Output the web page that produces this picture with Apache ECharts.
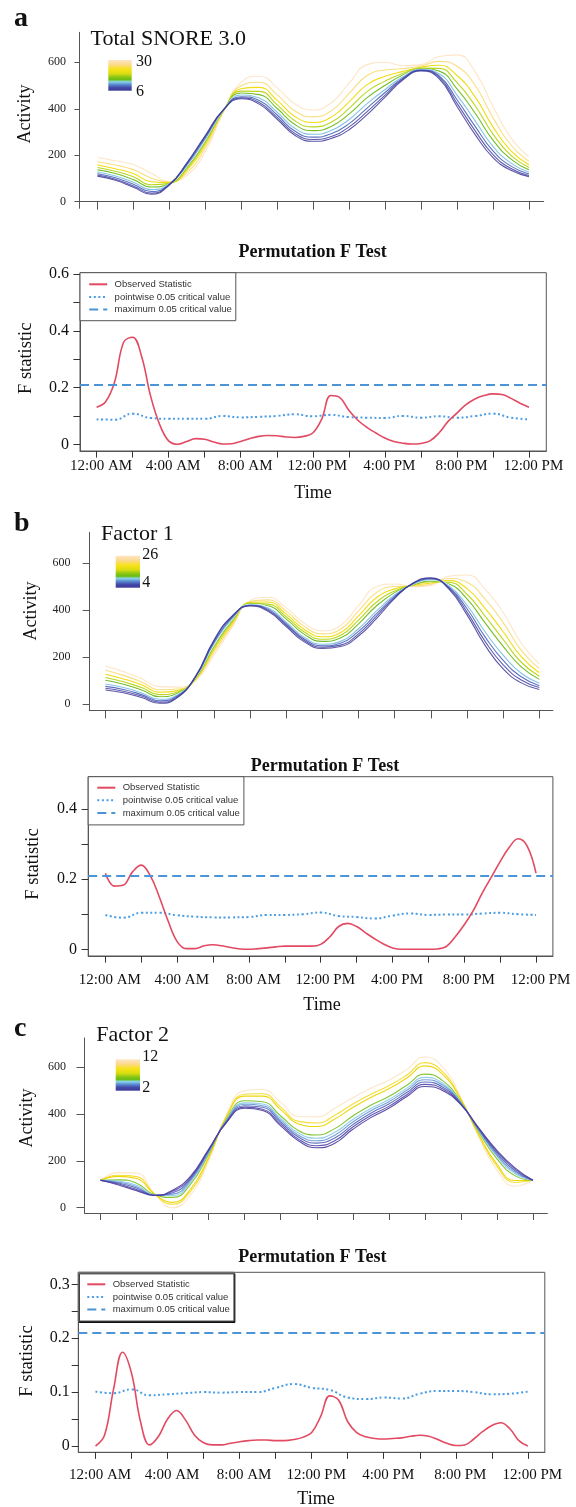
<!DOCTYPE html>
<html><head><meta charset="utf-8">
<script src="https://cdn.jsdelivr.net/npm/echarts@6/dist/echarts.min.js"></script>
<style>html,body{margin:0;padding:0;background:#fff}#c{width:576px;height:1507px}</style>
</head><body><div id="c"></div>
<script>
// ---------------- DATA ----------------
const HOURS = [0,1,2,3,4,5,6,7,8,9,10,11,12,13,14,15,16,17,18,19,20,21,22,23,24];
const HALF_HOURS = [0,0.5,1,1.5,2,2.5,3,3.5,4,4.5,5,5.5,6,6.5,7,7.5,8,8.5,9,9.5,10,10.5,11,11.5,12,12.5,13,13.5,14,14.5,15,15.5,16,16.5,17,17.5,18,18.5,19,19.5,20,20.5,21,21.5,22,22.5,23,23.5,24];
const TICK_HOURS = [0,2,4,6,8,10,12,14,16,18,20,22,24];
const LABEL_HOURS = [0,4,8,12,16,20,24];
const TIME_LABELS = ['12:00 AM','4:00 AM','8:00 AM','12:00 PM','4:00 PM','8:00 PM','12:00 PM'];
const ACTIVITY_TICKS = [0,200,400,600];

// Panel a: Total SNORE 3.0 (curves from score 6 up to 30)
const A_6  = [110,92,62,32,72,170,285,395,443,420,355,285,260,272,310,375,450,525,563,530,410,290,190,135,108];
const A_8  = [115,97,68,37,73,167,281,394,447,427,363,293,268,281,322,388,459,529,565,536,423,306,203,143,113];
const A_9  = [120,103,75,44,74,163,276,394,452,436,373,303,278,292,336,403,470,533,567,542,439,325,219,153,119];
const A_11 = [128,111,84,52,76,158,270,393,459,446,385,315,290,306,354,422,483,538,569,551,459,349,238,166,127];
const A_12 = [132,115,89,56,76,155,266,392,462,452,392,322,297,313,364,433,491,541,570,556,470,363,249,173,131];
const A_14 = [137,121,95,63,77,151,261,392,468,461,401,331,306,324,378,448,501,545,572,562,486,382,265,183,137];
const A_17 = [147,131,107,73,79,145,253,390,476,475,417,347,322,342,402,474,519,553,575,574,512,414,291,199,147];
const A_20 = [158,142,121,86,82,137,243,389,486,492,436,366,341,364,430,504,540,561,579,587,543,452,322,219,159];
const A_25 = [172,158,138,102,85,127,230,387,499,514,460,390,365,391,466,543,567,572,584,604,583,501,362,244,174];
const A_30 = [190,176,160,122,88,115,215,385,515,540,490,420,395,425,510,590,600,585,590,625,632,560,410,275,193];

// Panel b: Factor 1 (score 4 up to 26)
const B_4  = [60,48,28,3,28,120,272,375,418,395,330,265,237,245,290,365,450,515,538,490,380,250,150,90,62];
const B_6  = [67,54,34,8,31,119,268,372,420,399,336,271,242,251,299,375,454,514,536,494,392,267,167,102,70];
const B_7  = [75,62,40,14,35,117,262,368,421,404,342,277,248,259,310,385,459,513,533,498,406,286,186,116,78];
const B_9  = [85,70,47,20,39,115,257,363,423,409,349,284,255,267,321,397,465,511,530,503,421,308,208,131,88];
const B_11 = [92,76,53,25,42,114,252,360,425,414,355,290,260,273,330,407,469,510,528,507,433,324,224,143,96];
const B_13 = [101,84,60,31,46,112,246,355,427,419,362,297,267,281,342,419,475,509,525,512,448,346,246,158,105];
const B_15 = [113,95,70,40,51,110,239,349,429,426,372,307,276,292,358,435,482,507,521,519,468,375,275,178,118];
const B_19 = [127,107,82,50,57,107,230,342,433,435,383,318,287,304,376,454,491,505,516,526,492,408,308,202,133];
const B_22 = [144,122,94,61,64,104,220,334,436,444,396,331,299,319,397,476,501,503,511,535,519,447,347,229,151];
const B_26 = [162,138,109,74,72,100,208,325,440,455,410,345,312,335,420,500,512,500,505,545,550,490,390,260,170];

// Panel c: Factor 2 (score 2 up to 12)
const C_2  = [117,97,73,52,75,135,250,365,425,415,350,285,256,275,335,385,425,475,518,500,440,340,245,170,117];
const C_3  = [117,101,78,53,70,129,247,367,430,421,357,292,265,286,345,394,433,483,527,507,442,337,239,165,117];
const C_4  = [117,105,84,53,64,123,243,370,436,429,365,301,276,298,355,404,443,492,537,515,445,334,232,158,117];
const C_5  = [117,109,90,54,58,117,239,373,442,436,373,309,286,310,366,414,453,502,547,523,447,331,225,152,117];
const C_6  = [117,113,96,55,52,110,235,376,448,443,381,318,297,322,377,424,462,511,557,531,449,328,219,146,117];
const C_7  = [117,119,105,55,44,101,229,380,457,453,392,329,311,338,392,438,475,523,571,542,453,323,209,137,117];
const C_10 = [117,134,125,58,23,80,216,389,477,477,419,358,347,379,428,471,508,554,606,569,461,312,186,116,117];
const C_11 = [117,139,133,58,15,71,210,393,485,487,430,369,362,395,443,485,521,567,620,580,464,308,177,108,117];
const C_12 = [117,150,148,60,0,55,200,400,500,505,450,390,388,425,470,510,545,590,645,600,470,300,160,92,117];

// Permutation F tests
const FA_OBS = [0.131,0.15,0.22,0.36,0.378,0.31,0.17,0.07,0.012,0.0,0.01,0.02,0.018,0.008,0.001,0.002,0.01,0.02,0.028,0.031,0.03,0.026,0.024,0.028,0.04,0.09,0.172,0.165,0.12,0.085,0.06,0.04,0.022,0.01,0.004,0.001,0.003,0.012,0.04,0.08,0.11,0.14,0.16,0.172,0.178,0.176,0.162,0.145,0.131];
const FA_PW  = [0.088,0.087,0.108,0.093,0.09,0.09,0.09,0.1,0.095,0.097,0.1,0.106,0.099,0.104,0.096,0.094,0.093,0.1,0.094,0.099,0.094,0.1,0.108,0.094,0.088];
const FA_MAX = 0.215;
const FB_OBS = [0.217,0.18,0.183,0.22,0.24,0.21,0.15,0.08,0.022,0.002,0.002,0.01,0.013,0.01,0.005,0.001,0.0,0.002,0.004,0.007,0.009,0.009,0.009,0.009,0.014,0.035,0.065,0.074,0.065,0.047,0.03,0.015,0.004,0.0,0.0,0.0,0.0,0.001,0.008,0.036,0.07,0.11,0.16,0.205,0.25,0.29,0.315,0.295,0.217];
const FB_PW  = [0.098,0.09,0.104,0.104,0.097,0.093,0.091,0.091,0.092,0.098,0.098,0.1,0.105,0.095,0.092,0.088,0.096,0.102,0.098,0.099,0.099,0.102,0.104,0.1,0.098];
const FB_MAX = 0.214;
const FC_OBS = [0.0,0.02,0.105,0.174,0.135,0.045,0.002,0.018,0.05,0.066,0.048,0.02,0.006,0.002,0.002,0.005,0.008,0.01,0.011,0.011,0.01,0.01,0.012,0.016,0.025,0.055,0.093,0.085,0.045,0.025,0.017,0.014,0.013,0.014,0.015,0.018,0.02,0.018,0.012,0.005,0.001,0.002,0.013,0.027,0.038,0.043,0.032,0.01,0.0];
const FC_PW  = [0.101,0.098,0.105,0.094,0.096,0.098,0.1,0.099,0.1,0.1,0.108,0.115,0.108,0.104,0.09,0.087,0.09,0.088,0.097,0.102,0.102,0.1,0.096,0.097,0.101];
const FC_MAX = 0.206;

const SERIES_NAMES = ['Observed Statistic','pointwise 0.05 critical value','maximum 0.05 critical value'];
const PANEL_LETTERS = ['a','b','c'];
const PANEL_TITLES = ['Total SNORE 3.0','Factor 1','Factor 2'];
const SCALE_LABELS = [['30','6'],['26','4'],['12','2']];
const F_TITLE = 'Permutation F Test';
const Y_NAME_TOP = 'Activity', Y_NAME_F = 'F statistic', X_NAME = 'Time';

// ---------------- STYLE / LAYOUT ----------------
const SERIF = '"Liberation Serif","Times New Roman",serif';
const SANS = '"Liberation Sans",Arial,sans-serif';
const RED = '#e24a62', PW_BLUE = '#4a9de4', MAX_BLUE = '#4a94d8';
const AB_COLORS = ['#3d3a96','#4540a2','#4a63bb','#7cc0e2','#ffffff','#6cba1c','#b6d414','#f1da06','#f8d86a','#fddcb4'];
const AB_OPAC   = [0.85,0.85,0.9,0.95,1,0.95,0.95,0.95,0.85,0.75];
const C_COLORS  = ['#4b3b9e','#5148a8','#4f62bb','#6f9bd7','#8ccbe8','#7cc12a','#ecd400','#f5db2c','#fde0bc'];
const C_OPAC    = [0.9,0.9,0.9,0.95,0.95,0.95,0.95,0.95,0.8];

const TOP = [
  {grid:{left:79.4, top:32.3, width:464.3, height:176}, x:[-1.0,24.82], y:[-28.4,729.1], onZero:true, yTick:5, xTick:8, yMargin:13.3,
   curves:[A_6,A_8,A_9,A_11,A_12,A_14,A_17,A_20,A_25,A_30], colors:AB_COLORS, opac:AB_OPAC,
   bar:[108.3,60,23.4,30.7], letter:[14,18.8], title:[90.5,39.3], sl:[[136,61.3],[136,91.9]], yname:[25.4,114]},
  {grid:{left:89.3, top:532.3, width:463.6, height:178.4}, x:[-0.89,24.75], y:[-28.6,732.2], onZero:false, yTick:6.6, xTick:7.7, yMargin:18.8,
   curves:[B_4,B_6,B_7,B_9,B_11,B_13,B_15,B_19,B_22,B_26], colors:AB_COLORS, opac:AB_OPAC,
   bar:[115.7,555.7,24.3,32], letter:[14,523.5], title:[101,534.3], sl:[[142.3,554.6],[142.3,582.9]], yname:[30.9,611]},
  {grid:{left:84.5, top:1038, width:462.9, height:175}, x:[-0.89,24.8], y:[-22.6,725.2], onZero:false, yTick:8, xTick:7, yMargin:18.4,
   curves:[C_2,C_3,C_4,C_5,C_6,C_7,C_10,C_11,C_12], colors:C_COLORS, opac:C_OPAC,
   bar:[115.7,1059.3,24.3,31.4], letter:[14,1028.6], title:[96.3,1035.6], sl:[[142.3,1056.3],[142.3,1087.9]], yname:[27.3,1118]}
];
const FT = [
  {grid:{left:80, top:272.7, width:466.3, height:178.3}, x:[-0.92,24.96], y:[-0.0236,0.6056],
   yTicks:[0,0.1,0.2,0.3,0.4,0.5,0.6], yLabels:[0,0.2,0.4,0.6], yMargin:11, xMargin:7.1,
   obs:FA_OBS, pw:FA_PW, max:FA_MAX, legend:{left:80, top:272.7, pad:[6.6,4,6.2,8.2]}, shadow:false,
   title:[312.6,252], yname:[26.6,358.3], xname:[313,493.2]},
  {grid:{left:88.2, top:776.7, width:464.7, height:179.3}, x:[-0.959,24.94], y:[-0.0191,0.492],
   yTicks:[0,0.1,0.2,0.3,0.4], yLabels:[0,0.2,0.4], yMargin:11.1, xMargin:16.4,
   obs:FB_OBS, pw:FB_PW, max:FB_MAX, legend:{left:88.2, top:776.7, pad:[6,4,7,8.1]}, shadow:false,
   title:[325,766.2], yname:[33,864], xname:[322,1005.6]},
  {grid:{left:78.3, top:1272.3, width:466.5, height:180}, x:[-0.955,24.94], y:[-0.0117,0.3223],
   yTicks:[0,0.05,0.1,0.15,0.2,0.25,0.3], yLabels:[0,0.1,0.2,0.3], yMargin:8.5, xMargin:15.1,
   obs:FC_OBS, pw:FC_PW, max:FC_MAX, legend:{left:78.3, top:1272.3, pad:[7,4,6.5,8]}, shadow:true,
   title:[312.3,1257.2], yname:[27.6,1361], xname:[316,1499]}
];

// ---------------- BUILD ----------------
const grids = [], xAxes = [], yAxes = [], series = [], legends = [], graphics = [];
const AX = '#555';

function text(t, x, y, size, o) {
  o = o || {};
  const align = o.align || 'left';
  return {type:'text', x:x, y:y, rotation:o.rot ? Math.PI/2 : 0, z:100, silent:true,
    style:{text:t, x:0, y:0, fill:'#111', font:(o.bold?'bold ':'') + size + 'px ' + SERIF,
      align:align, textAlign:align, verticalAlign:'middle', textVerticalAlign:'middle'}};
}

for (let k = 0; k < 3; k++) {
  const p = TOP[k], f = FT[k];
  const gTop = grids.length;
  grids.push(Object.assign({containLabel:false, outerBoundsMode:'none'}, p.grid));
  xAxes.push({gridIndex:gTop, type:'value', min:p.x[0], max:p.x[1],
    axisLine:{show:true, onZero:p.onZero, lineStyle:{color:AX, width:1}},
    axisTick:{show:true, customValues:TICK_HOURS, length:p.xTick, lineStyle:{color:AX}},
    axisLabel:{show:false}, splitLine:{show:false}});
  yAxes.push({gridIndex:gTop, type:'value', min:p.y[0], max:p.y[1],
    axisLine:{show:true, onZero:false, lineStyle:{color:AX, width:1}},
    axisTick:{show:true, customValues:ACTIVITY_TICKS, length:p.yTick, lineStyle:{color:AX}},
    axisLabel:{show:true, customValues:ACTIVITY_TICKS, margin:p.yMargin, fontFamily:SERIF, fontSize:12, color:'#222'},
    splitLine:{show:false}});
  for (let i = p.curves.length - 1; i >= 0; i--) {
    const arr = p.curves[i];
    series.push({type:'line', xAxisIndex:gTop, yAxisIndex:gTop, silent:true, smooth:0.5, symbol:'none', z:2,
      data:HOURS.map((h, j) => [h, arr[j]]),
      lineStyle:{width:1.1, color:p.colors[i], opacity:p.opac[i]}});
  }
  graphics.push({type:'rect', shape:{x:p.bar[0], y:p.bar[1], width:p.bar[2], height:p.bar[3]}, z:100, silent:true,
    style:{fill:{type:'linear', x:0, y:0, x2:0, y2:1, colorStops:[
      {offset:0, color:'#fde6c8'},{offset:0.15, color:'#fcd98c'},{offset:0.3, color:'#f8e21a'},
      {offset:0.45, color:'#d8dc10'},{offset:0.55, color:'#8cc818'},{offset:0.64, color:'#6cbc10'},
      {offset:0.71, color:'#88d4ec'},{offset:0.8, color:'#5a8ad0'},{offset:0.9, color:'#4448a8'},{offset:1, color:'#3c3a98'}]}}});
  graphics.push(text(PANEL_LETTERS[k], p.letter[0], p.letter[1], 28, {bold:true}));
  graphics.push(text(PANEL_TITLES[k], p.title[0], p.title[1], 22));
  graphics.push(text(SCALE_LABELS[k][0], p.sl[0][0], p.sl[0][1], 16));
  graphics.push(text(SCALE_LABELS[k][1], p.sl[1][0], p.sl[1][1], 16));
  graphics.push(text(Y_NAME_TOP, p.yname[0], p.yname[1], 18, {rot:true, align:'center'}));

  // F test panel
  const gF = grids.length;
  grids.push(Object.assign({containLabel:false, outerBoundsMode:'none', show:true, borderColor:'#555', borderWidth:1, backgroundColor:'transparent'}, f.grid));
  xAxes.push({gridIndex:gF, type:'value', min:f.x[0], max:f.x[1],
    axisLine:{show:true, onZero:false, lineStyle:{color:AX, width:1}},
    axisTick:{show:true, customValues:TICK_HOURS, length:6.6, lineStyle:{color:'#333'}},
    axisLabel:{show:true, customValues:LABEL_HOURS, margin:f.xMargin, fontFamily:SERIF, fontSize:15, color:'#111',
      padding:[0,0,0,9], formatter:v => TIME_LABELS[LABEL_HOURS.indexOf(v)]},
    splitLine:{show:false}});
  yAxes.push({gridIndex:gF, type:'value', min:f.y[0], max:f.y[1],
    axisLine:{show:true, onZero:false, lineStyle:{color:AX, width:1}},
    axisTick:{show:true, customValues:f.yTicks, length:6.6, lineStyle:{color:'#333'}},
    axisLabel:{show:true, customValues:f.yLabels, margin:f.yMargin, fontFamily:SERIF, fontSize:16, color:'#111',
      formatter:v => (v === 0 ? '0' : String(v))},
    splitLine:{show:false}});
  series.push({name:SERIES_NAMES[1], type:'line', xAxisIndex:gF, yAxisIndex:gF, silent:true, smooth:0.5, symbol:'none', z:3,
    data:HOURS.map((h, j) => [h, f.pw[j]]), lineStyle:{color:PW_BLUE, width:2, type:[2,2.6]}, itemStyle:{color:PW_BLUE}});
  series.push({name:SERIES_NAMES[2], type:'line', xAxisIndex:gF, yAxisIndex:gF, silent:true, symbol:'none', z:3, data:[],
    lineStyle:{color:MAX_BLUE, width:2, type:[9,5]}, itemStyle:{color:MAX_BLUE},
    markLine:{symbol:['none','none'], silent:true, animation:false, label:{show:false},
      lineStyle:{color:MAX_BLUE, width:2, type:[9,5]}, emphasis:{disabled:true}, data:[{yAxis:f.max}]}});
  series.push({name:SERIES_NAMES[0], type:'line', xAxisIndex:gF, yAxisIndex:gF, silent:true, smooth:0.4, symbol:'none', z:4,
    data:HALF_HOURS.map((h, j) => [h, f.obs[j]]), lineStyle:{color:RED, width:1.6}, itemStyle:{color:RED}});
  const lg = {orient:'vertical', left:f.legend.left, top:f.legend.top, itemWidth:18, itemHeight:10, itemGap:2.6,
    padding:f.legend.pad, backgroundColor:'#fff', borderColor:'#555', borderWidth:1, borderRadius:0,
    selectedMode:false, data:SERIES_NAMES.slice(),
    itemStyle:{color:'rgba(0,0,0,0)', borderWidth:0, borderColor:'rgba(0,0,0,0)', opacity:0},
    textStyle:{fontFamily:SANS, fontSize:9.5, color:'#333', lineHeight:10, padding:[0,0,0,2.4]}};
  if (f.shadow) { lg.shadowColor = '#111'; lg.shadowOffsetX = 1; lg.shadowOffsetY = 1.5; lg.shadowBlur = 0; }
  legends.push(lg);
  graphics.push(text(F_TITLE, f.title[0], f.title[1], 18, {bold:true, align:'center'}));
  graphics.push(text(Y_NAME_F, f.yname[0], f.yname[1], 18.5, {rot:true, align:'center'}));
  graphics.push(text(X_NAME, f.xname[0], f.xname[1], 18, {align:'center'}));
}

const chart = echarts.init(document.getElementById('c'), null, {renderer:'canvas', width:576, height:1507});
chart.setOption({
  animation:false, backgroundColor:'#ffffff',
  grid:grids, xAxis:xAxes, yAxis:yAxes, series:series, legend:legends,
  graphic:{elements:graphics}
});
</script></body></html>
